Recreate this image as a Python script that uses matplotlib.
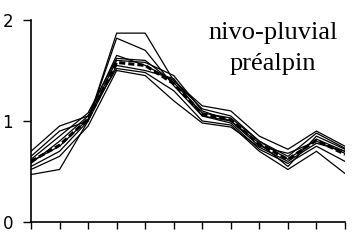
import matplotlib
matplotlib.use('Agg')
from matplotlib import pyplot as plt

months = list(range(1, 13))
month_labels = [str(m) for m in months]

# monthly flow coefficients, one list per station
station_a = [0.65, 0.90, 1.00, 1.87, 1.87, 1.40, 1.15, 1.10, 0.85, 0.72, 0.90, 0.75]
station_b = [0.47, 0.52, 1.00, 1.82, 1.70, 1.35, 1.05, 1.00, 0.78, 0.55, 0.85, 0.72]
station_c = [0.58, 0.80, 1.05, 1.65, 1.55, 1.40, 1.12, 1.05, 0.80, 0.62, 0.82, 0.70]
station_d = [0.60, 0.75, 1.02, 1.60, 1.58, 1.45, 1.10, 1.00, 0.75, 0.68, 0.80, 0.68]
station_e = [0.55, 0.70, 1.00, 1.55, 1.50, 1.42, 1.05, 0.98, 0.72, 0.58, 0.75, 0.60]
station_f = [0.70, 0.95, 1.05, 1.52, 1.48, 1.30, 1.00, 0.96, 0.70, 0.52, 0.70, 0.48]
station_g = [0.52, 0.65, 0.95, 1.50, 1.45, 1.20, 0.98, 0.94, 0.74, 0.60, 0.78, 0.70]
station_h = [0.62, 0.85, 1.08, 1.62, 1.60, 1.38, 1.08, 1.03, 0.80, 0.65, 0.88, 0.73]
mean_regime = [0.60, 0.76, 1.02, 1.58, 1.55, 1.37, 1.07, 1.01, 0.77, 0.62, 0.81, 0.67]

stations = [station_a, station_b, station_c, station_d,
            station_e, station_f, station_g, station_h]

fig = plt.figure(figsize=(3.58, 2.41), dpi=100)
ax = fig.add_axes([31 / 358, 19 / 241, 314 / 358, 202 / 241])

for s in stations:
    ax.plot(months, s, color='black', linewidth=0.9)
ax.plot(months, mean_regime, color='black', linewidth=2.2, linestyle=(0, (2, 1)))

ax.set_xlim(1, 12)
ax.set_ylim(0, 2)
ax.set_yticks([0, 1, 2])
ax.set_xticks(months)
ax.set_xticklabels(month_labels, fontweight='bold')
ax.tick_params(axis='y', length=6, width=1, labelsize=12, pad=7)
ax.tick_params(axis='x', length=5, width=1, labelsize=12, pad=8)
for side in ['top', 'right']:
    ax.spines[side].set_visible(False)
for side in ['left', 'bottom']:
    ax.spines[side].set_linewidth(1.2)
ax.patch.set_alpha(0)

ax.text(0.77, 0.99, 'nivo-pluvial\npréalpin', transform=ax.transAxes,
        ha='center', va='top', family='Liberation Serif', fontsize=19,
        linespacing=1.5)

fig.savefig('out.png', dpi=100)
